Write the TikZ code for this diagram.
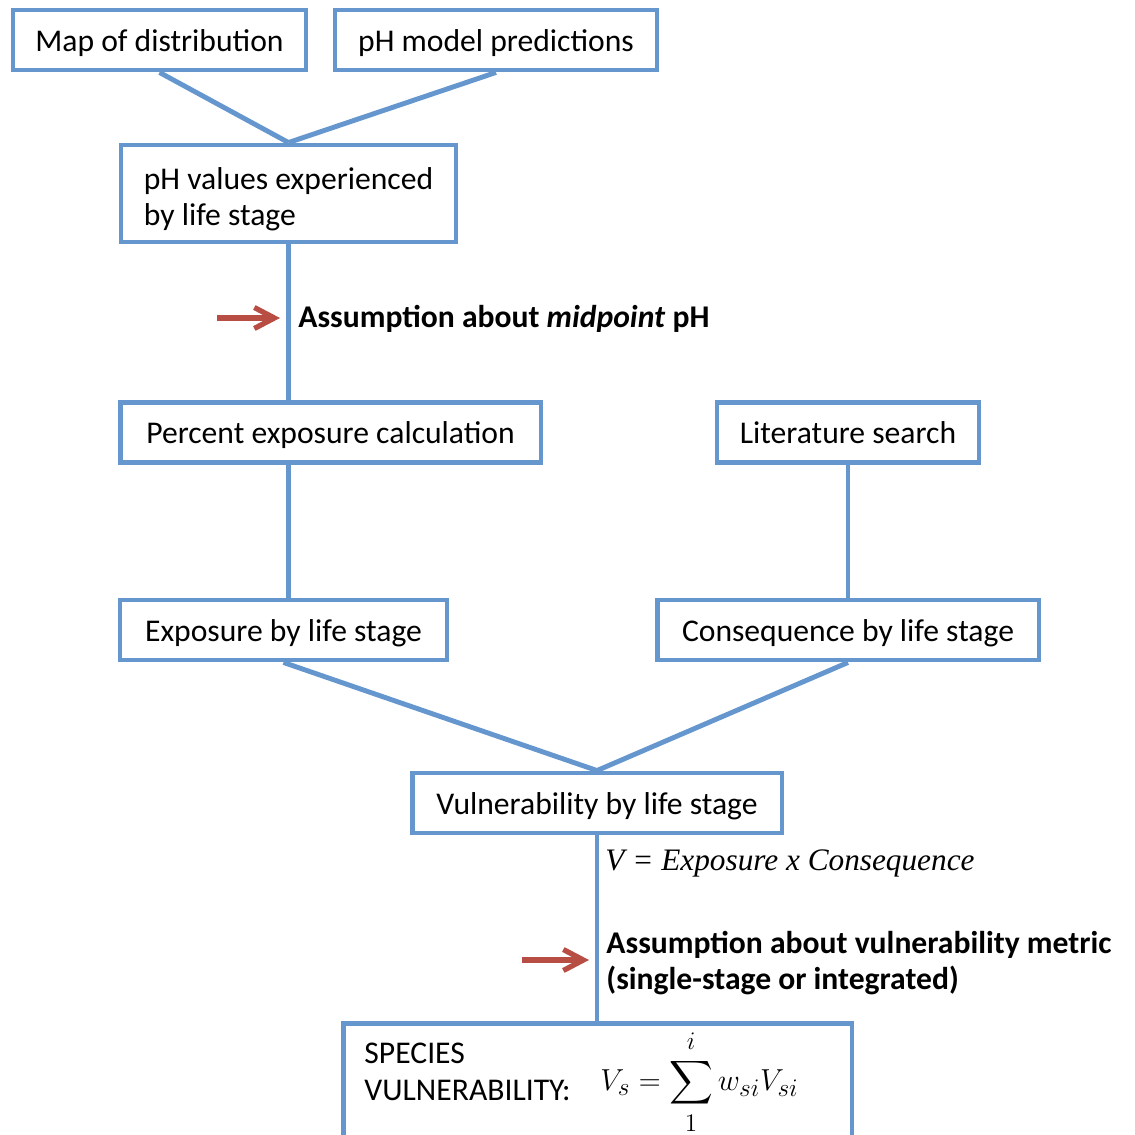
\documentclass[tikz,border=0pt]{standalone}
\usepackage{fontspec}
\usepackage{amsmath}
\setmainfont{Carlito}
\newfontfamily\eqfont{Liberation Serif}
\usetikzlibrary{arrows.meta}
\definecolor{boxblue}{RGB}{101,151,206}
\definecolor{markred}{RGB}{184,77,68}

\begin{document}
\begin{tikzpicture}[x=0.02cm,y=-0.02cm,draw=boxblue,line width=2.8pt]
	\def \toprow{40}
	\def \phrow{193.5}
	\def \midrow{319}
	\def \calcrow{432.5}
	\def \stagerow{630}
	\def \vulnrow{803}
	\def \metricrow{963}
	\def \speciestop{1021}
	\tikzstyle{s-box}=[rectangle,draw=boxblue,line width=2.8pt,inner sep=2pt,minimum height=1.2cm,align=left,font={\fontsize{18}{21}\selectfont}]
	\tikzstyle{one-line}=[s-box,text height=17.5pt,text depth=4.5pt]
	\tikzstyle{note}=[anchor=west,inner sep=0pt,align=left,font={\fontsize{18}{21}\selectfont\bfseries}]
	\tikzstyle{mark-arrow}=[draw=markred,line width=3pt,-{Straight Barb[length=4mm,width=4.2mm]}]
	\useasboundingbox (0,0) rectangle (1134,1135);

	% input boxes
	\node[one-line,minimum width=5.86cm]	(map)	at (159.5,\toprow)	{Map of distribution};
	\node[one-line,minimum width=6.44cm]	(model)	at (496,\toprow)	{pH model predictions};
	\node[s-box,minimum width=6.7cm,minimum height=1.94cm]	(phval)	at (288.5,\phrow)	{\rule{0pt}{19pt}pH values experienced\\by life stage};

	% calculation row
	\node[one-line,minimum width=8.42cm]	(pct)	at (330.5,\calcrow)	{Percent exposure calculation};
	\node[one-line,minimum width=5.24cm]	(lit)	at (848,\calcrow)	{Literature search};

	% life stage row
	\node[one-line,minimum width=6.54cm]	(expo)	at (283.5,\stagerow)	{Exposure by life stage};
	\node[one-line,minimum width=7.64cm]	(cons)	at (848,\stagerow)	{Consequence by life stage};
	\node[one-line,minimum width=7.4cm]	(vuln)	at (597,\vulnrow)	{Vulnerability by life stage};

	% species box
	\node[s-box,anchor=north,minimum width=10.18cm,minimum height=2.6cm]	(species)	at (597.5,\speciestop)	{};
	\node[anchor=west,inner sep=0pt,align=left,font={\fontsize{18}{21}\selectfont}]	(species-label)	at (362,1071.5)	{SPECIES\\VULNERABILITY:};
	\node[anchor=west,inner sep=0pt,font={\fontsize{19}{21}\selectfont}]	(species-eq)	at (598,1084)	{$\displaystyle V_s=\sum_{\mathstrut 1}^{i\mathstrut}w_{si}V_{si}$};

	% annotations
	\node[note]	(mid-note)	at (296,\midrow)	{Assumption about \textit{midpoint} pH};
	\node[anchor=west,inner sep=0pt,font={\fontsize{17.8}{21}\eqfont\itshape}]	(v-note)	at (603,863)	{V = Exposure x Consequence};
	\node[note]	(metric-note)	at (604,\metricrow)	{Assumption about vulnerability metric\\(single-stage or integrated)};

	\coordinate (mid-tail)	at (217,318);
	\coordinate (mid-tip)	at (280,318);
	\coordinate (metric-tail)	at (522,960);
	\coordinate (metric-tip)	at (589,960);

	\path
		(map.south)	edge	(phval.north)
		(model.south)	edge	(phval.north)
		(phval.south)	edge	(phval.south |- pct.north)
		(phval.south |- pct.south)	edge	(phval.south |- expo.north)
		(lit.south)	edge	(cons.north)
		(expo.south)	edge	(vuln.north)
		(cons.south)	edge	(vuln.north)
		(vuln.south)	edge	(vuln.south |- species.north);

	\draw[mark-arrow] (mid-tail) -- (mid-tip);
	\draw[mark-arrow] (metric-tail) -- (metric-tip);
\end{tikzpicture}
\end{document}
